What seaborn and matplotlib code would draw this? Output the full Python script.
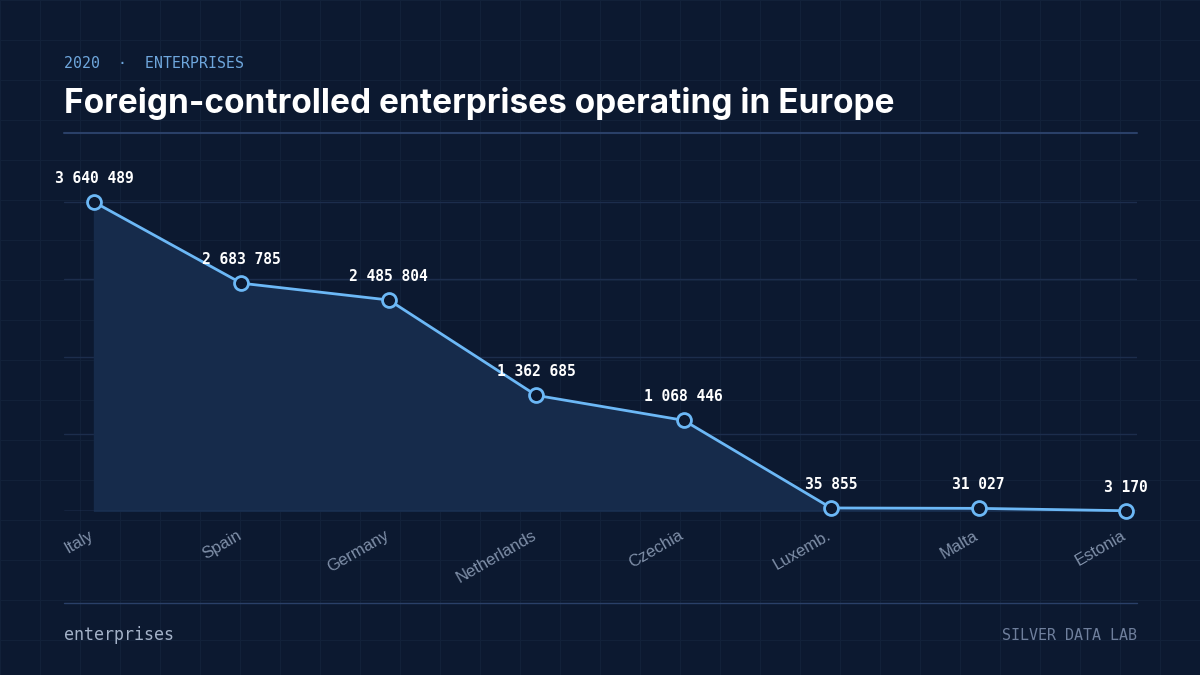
import numpy as np
import pandas as pd
import matplotlib
matplotlib.use("Agg")
import matplotlib.pyplot as plt
import matplotlib.transforms as mtransforms
import seaborn as sns

countries = ["Italy", "Spain", "Germany", "Netherlands", "Czechia", "Luxemb.", "Malta", "Estonia"]
enterprises = [3640489, 2683785, 2485804, 1362685, 1068446, 35855, 31027, 3170]
value_labels = ["3 640 489", "2 683 785", "2 485 804", "1 362 685", "1 068 446", "35 855", "31 027", "3 170"]

BG = "#0c1930"
FILL = "#162b4b"
LINE = "#6cb8f6"
RULE = "#2a4068"
GRIDC = "#1c2d4c"
FINE = "#122139"
TICKC = "#7f8fa8"

sns.set_theme(style="dark")
plt.rcParams["font.family"] = ["Inter", "DejaVu Sans"]

df = pd.DataFrame({"country": countries, "value": enterprises})
df["pos"] = np.arange(len(df))

fig = plt.figure(figsize=(12, 6.75), dpi=100, facecolor=BG)

# background fine grid
bg = fig.add_axes([0, 0, 1, 1], zorder=-10)
bg.set_facecolor(BG)
bg.set_xlim(0, 1200)
bg.set_ylim(675, 0)
for xv in range(0, 1201, 40):
    bg.axvline(xv, color=FINE, lw=0.8)
for yv in range(0, 676, 40):
    bg.axhline(yv, color=FINE, lw=0.8)
bg.axis("off")

ax = fig.add_axes([64 / 1200, 1 - 511 / 675, (1137 - 64) / 1200, (511 - 171.5) / 675])
ax.set_facecolor("none")

ymax = max(enterprises)
ax.set_xlim(-0.2035, 7.075)
ax.set_ylim(0, ymax * 4.0 / 3.640489)
ax.set_yticks(np.linspace(0, ymax, 5))
ax.yaxis.grid(True, color=GRIDC, lw=1)
ax.xaxis.grid(False)
ax.set_yticklabels([])
ax.tick_params(axis="y", length=0)
for s in ax.spines.values():
    s.set_visible(False)

ax.fill_between(df["pos"], 0, df["value"], color=FILL, zorder=1)
sns.lineplot(data=df, x="pos", y="value", ax=ax, color=LINE, lw=2, zorder=3,
             marker="o", markersize=10, markerfacecolor=BG, markeredgecolor=LINE,
             markeredgewidth=2, clip_on=False)
ax.axhline(0, color=RULE, lw=1, zorder=2)

for p, v, lab in zip(df["pos"], df["value"], value_labels):
    ax.annotate(lab, (p, v), xytext=(0, 17), textcoords="offset points",
                ha="center", va="center", color="white", fontsize=10.5,
                fontweight="bold", family="DejaVu Sans Mono", zorder=5)

ax.set_xticks(df["pos"])
ax.set_xticklabels(countries, rotation=30, ha="right", rotation_mode="anchor",
                   color=TICKC, fontsize=12, family="Liberation Sans")
ax.tick_params(axis="x", length=0, pad=12)
shift = mtransforms.ScaledTranslation(-5 / 100, 0, fig.dpi_scale_trans)
for lbl in ax.get_xticklabels():
    lbl.set_transform(lbl.get_transform() + shift)
ax.set_xlabel("")
ax.set_ylabel("")

# header
fig.text(64 / 1200, 1 - 63 / 675, "2020  ·  ENTERPRISES", color="#6ea6dc",
         fontsize=10.7, family="DejaVu Sans Mono", va="center", ha="left")
fig.text(64 / 1200, 1 - 103 / 675, "Foreign-controlled enterprises operating in Europe",
         color="white", fontsize=24, fontweight="bold", va="center", ha="left")
fig.add_artist(plt.Line2D([64 / 1200, 1137 / 1200], [1 - 133 / 675, 1 - 133 / 675],
                          color=RULE, lw=1.5))
fig.add_artist(plt.Line2D([64 / 1200, 1137 / 1200], [1 - 603 / 675, 1 - 603 / 675],
                          color=RULE, lw=1))
fig.text(64 / 1200, 1 - 635 / 675, "enterprises", color="#a4b2c8",
         fontsize=12, family="DejaVu Sans Mono", va="center", ha="left")
fig.text(1137 / 1200, 1 - 635 / 675, "SILVER DATA LAB", color="#6f7f9c",
         fontsize=10.8, family="DejaVu Sans Mono", va="center", ha="right")

fig.savefig("out.png", dpi=100, facecolor=BG)
